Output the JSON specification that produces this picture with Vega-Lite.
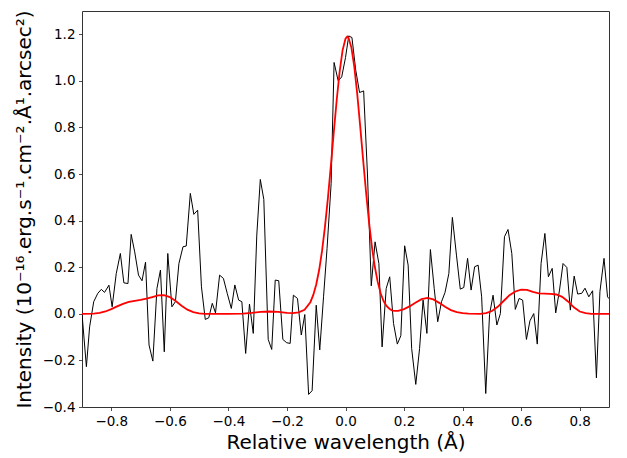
{
  "$schema": "https://vega.github.io/schema/vega-lite/v6.json",
  "width": 527,
  "height": 396,
  "autosize": {"type": "none"},
  "padding": {"left": 82, "top": 11, "right": 18, "bottom": 51},
  "background": "white",
  "datasets": {
    "obs": [
      {"x": -0.900, "y": 0.00}, {"x": -0.885, "y": -0.227}, {"x": -0.874, "y": -0.056}, {"x": -0.860, "y": 0.052},
      {"x": -0.846, "y": 0.088}, {"x": -0.834, "y": 0.105}, {"x": -0.823, "y": 0.092}, {"x": -0.808, "y": 0.123},
      {"x": -0.797, "y": 0.030}, {"x": -0.783, "y": 0.173}, {"x": -0.769, "y": 0.259}, {"x": -0.757, "y": 0.133},
      {"x": -0.743, "y": 0.130}, {"x": -0.732, "y": 0.341}, {"x": -0.720, "y": 0.266}, {"x": -0.707, "y": 0.166},
      {"x": -0.695, "y": 0.142}, {"x": -0.683, "y": 0.222}, {"x": -0.671, "y": -0.134}, {"x": -0.658, "y": -0.203},
      {"x": -0.644, "y": 0.109}, {"x": -0.632, "y": 0.188}, {"x": -0.619, "y": -0.163}, {"x": -0.607, "y": 0.259},
      {"x": -0.593, "y": 0.030}, {"x": -0.581, "y": 0.052}, {"x": -0.569, "y": 0.216}, {"x": -0.555, "y": 0.288},
      {"x": -0.544, "y": 0.291}, {"x": -0.530, "y": 0.517}, {"x": -0.518, "y": 0.427}, {"x": -0.505, "y": 0.445},
      {"x": -0.492, "y": 0.116}, {"x": -0.479, "y": -0.024}, {"x": -0.467, "y": -0.017}, {"x": -0.455, "y": 0.045},
      {"x": -0.444, "y": 0.004}, {"x": -0.430, "y": 0.166}, {"x": -0.417, "y": 0.152}, {"x": -0.404, "y": 0.088},
      {"x": -0.390, "y": 0.023}, {"x": -0.378, "y": 0.124}, {"x": -0.365, "y": 0.059}, {"x": -0.354, "y": 0.052},
      {"x": -0.341, "y": -0.170}, {"x": -0.328, "y": 0.042}, {"x": -0.315, "y": -0.084}, {"x": -0.303, "y": 0.338},
      {"x": -0.291, "y": 0.577}, {"x": -0.279, "y": 0.491}, {"x": -0.264, "y": -0.110}, {"x": -0.252, "y": -0.153},
      {"x": -0.240, "y": 0.145}, {"x": -0.228, "y": 0.142}, {"x": -0.214, "y": -0.110}, {"x": -0.201, "y": -0.124},
      {"x": -0.189, "y": -0.127}, {"x": -0.178, "y": 0.080}, {"x": -0.164, "y": 0.066}, {"x": -0.151, "y": -0.091},
      {"x": -0.139, "y": -0.003}, {"x": -0.126, "y": -0.346}, {"x": -0.114, "y": -0.330}, {"x": -0.100, "y": 0.037},
      {"x": -0.088, "y": -0.155}, {"x": -0.075, "y": 0.073}, {"x": -0.063, "y": 0.281}, {"x": -0.049, "y": 0.560},
      {"x": -0.039, "y": 1.079}, {"x": -0.025, "y": 1.000}, {"x": -0.013, "y": 1.017}, {"x": 0.000, "y": 1.100},
      {"x": 0.011, "y": 1.193}, {"x": 0.022, "y": 1.186}, {"x": 0.035, "y": 1.046}, {"x": 0.048, "y": 0.950},
      {"x": 0.062, "y": 0.957}, {"x": 0.075, "y": 0.600}, {"x": 0.088, "y": 0.120}, {"x": 0.101, "y": 0.309},
      {"x": 0.114, "y": 0.216}, {"x": 0.125, "y": -0.142}, {"x": 0.139, "y": 0.109}, {"x": 0.151, "y": 0.159},
      {"x": 0.164, "y": -0.041}, {"x": 0.177, "y": -0.130}, {"x": 0.189, "y": -0.094}, {"x": 0.202, "y": 0.292},
      {"x": 0.214, "y": 0.209}, {"x": 0.226, "y": -0.149}, {"x": 0.240, "y": -0.303}, {"x": 0.253, "y": -0.149},
      {"x": 0.265, "y": 0.059}, {"x": 0.278, "y": -0.084}, {"x": 0.290, "y": 0.276}, {"x": 0.303, "y": 0.109},
      {"x": 0.315, "y": -0.034}, {"x": 0.328, "y": 0.052}, {"x": 0.340, "y": 0.092}, {"x": 0.353, "y": 0.173},
      {"x": 0.365, "y": 0.414}, {"x": 0.379, "y": 0.252}, {"x": 0.392, "y": 0.106}, {"x": 0.404, "y": 0.113},
      {"x": 0.417, "y": 0.238}, {"x": 0.429, "y": 0.102}, {"x": 0.441, "y": 0.202}, {"x": 0.453, "y": 0.209},
      {"x": 0.465, "y": 0.073}, {"x": 0.479, "y": -0.342}, {"x": 0.492, "y": -0.002}, {"x": 0.504, "y": 0.080},
      {"x": 0.517, "y": -0.048}, {"x": 0.529, "y": 0.001}, {"x": 0.543, "y": 0.331}, {"x": 0.555, "y": 0.362},
      {"x": 0.568, "y": 0.259}, {"x": 0.580, "y": 0.019}, {"x": 0.593, "y": 0.066}, {"x": 0.605, "y": 0.059},
      {"x": 0.618, "y": -0.110}, {"x": 0.630, "y": -0.030}, {"x": 0.643, "y": 0.001}, {"x": 0.655, "y": -0.130},
      {"x": 0.668, "y": 0.216}, {"x": 0.681, "y": 0.345}, {"x": 0.693, "y": 0.159}, {"x": 0.706, "y": 0.195},
      {"x": 0.718, "y": 0.004}, {"x": 0.731, "y": 0.102}, {"x": 0.743, "y": 0.216}, {"x": 0.756, "y": 0.199},
      {"x": 0.768, "y": 0.016}, {"x": 0.781, "y": 0.162}, {"x": 0.793, "y": 0.085}, {"x": 0.807, "y": 0.088},
      {"x": 0.818, "y": 0.110}, {"x": 0.831, "y": 0.073}, {"x": 0.844, "y": 0.099}, {"x": 0.857, "y": -0.275},
      {"x": 0.869, "y": 0.095}, {"x": 0.883, "y": 0.238}, {"x": 0.895, "y": 0.073}, {"x": 0.900, "y": 0.065}
    ],
    "fit": [
      {"x": -0.90, "y": 0.000}, {"x": -0.86, "y": 0.001}, {"x": -0.84, "y": 0.004}, {"x": -0.82, "y": 0.010},
      {"x": -0.80, "y": 0.020}, {"x": -0.78, "y": 0.032}, {"x": -0.76, "y": 0.043}, {"x": -0.74, "y": 0.051},
      {"x": -0.72, "y": 0.056}, {"x": -0.70, "y": 0.060}, {"x": -0.68, "y": 0.065}, {"x": -0.66, "y": 0.072},
      {"x": -0.64, "y": 0.079}, {"x": -0.62, "y": 0.080}, {"x": -0.60, "y": 0.072}, {"x": -0.58, "y": 0.055},
      {"x": -0.56, "y": 0.035}, {"x": -0.54, "y": 0.018}, {"x": -0.52, "y": 0.007}, {"x": -0.50, "y": 0.002},
      {"x": -0.48, "y": 0.000}, {"x": -0.40, "y": 0.000}, {"x": -0.35, "y": 0.001}, {"x": -0.32, "y": 0.004},
      {"x": -0.29, "y": 0.008}, {"x": -0.26, "y": 0.010}, {"x": -0.23, "y": 0.008}, {"x": -0.20, "y": 0.004},
      {"x": -0.18, "y": 0.003}, {"x": -0.16, "y": 0.006}, {"x": -0.14, "y": 0.017}, {"x": -0.12, "y": 0.050},
      {"x": -0.11, "y": 0.081}, {"x": -0.10, "y": 0.126}, {"x": -0.09, "y": 0.188}, {"x": -0.08, "y": 0.271},
      {"x": -0.07, "y": 0.375}, {"x": -0.06, "y": 0.498}, {"x": -0.05, "y": 0.636}, {"x": -0.04, "y": 0.780},
      {"x": -0.03, "y": 0.918}, {"x": -0.02, "y": 1.040}, {"x": -0.01, "y": 1.131}, {"x": 0.00, "y": 1.181},
      {"x": 0.006, "y": 1.190}, {"x": 0.01, "y": 1.186}, {"x": 0.02, "y": 1.144}, {"x": 0.03, "y": 1.061},
      {"x": 0.04, "y": 0.945}, {"x": 0.05, "y": 0.808}, {"x": 0.06, "y": 0.664}, {"x": 0.07, "y": 0.525},
      {"x": 0.08, "y": 0.398}, {"x": 0.09, "y": 0.290}, {"x": 0.10, "y": 0.203}, {"x": 0.11, "y": 0.137},
      {"x": 0.12, "y": 0.088}, {"x": 0.13, "y": 0.055}, {"x": 0.14, "y": 0.034}, {"x": 0.15, "y": 0.022},
      {"x": 0.16, "y": 0.014}, {"x": 0.17, "y": 0.013}, {"x": 0.18, "y": 0.013}, {"x": 0.20, "y": 0.020},
      {"x": 0.22, "y": 0.033}, {"x": 0.24, "y": 0.049}, {"x": 0.26, "y": 0.063}, {"x": 0.28, "y": 0.068},
      {"x": 0.30, "y": 0.062}, {"x": 0.32, "y": 0.047}, {"x": 0.34, "y": 0.030}, {"x": 0.36, "y": 0.016},
      {"x": 0.38, "y": 0.007}, {"x": 0.40, "y": 0.003}, {"x": 0.42, "y": 0.001}, {"x": 0.46, "y": 0.000},
      {"x": 0.48, "y": 0.003}, {"x": 0.50, "y": 0.012}, {"x": 0.52, "y": 0.030}, {"x": 0.54, "y": 0.055},
      {"x": 0.56, "y": 0.080}, {"x": 0.58, "y": 0.096}, {"x": 0.60, "y": 0.104}, {"x": 0.62, "y": 0.103},
      {"x": 0.64, "y": 0.094}, {"x": 0.66, "y": 0.088}, {"x": 0.68, "y": 0.087}, {"x": 0.70, "y": 0.086},
      {"x": 0.72, "y": 0.083}, {"x": 0.74, "y": 0.073}, {"x": 0.76, "y": 0.053}, {"x": 0.78, "y": 0.028},
      {"x": 0.80, "y": 0.010}, {"x": 0.82, "y": 0.003}, {"x": 0.84, "y": 0.000}, {"x": 0.90, "y": 0.000}
    ]
  },
  "layer": [
    {
      "data": {"name": "obs"},
      "mark": {"type": "line", "color": "black", "strokeWidth": 1, "clip": true},
      "encoding": {
        "x": {"field": "x", "type": "quantitative", "scale": {"domain": [-0.9, 0.9], "nice": false, "zero": false},
          "axis": {"title": "Relative wavelength (Å)", "values": [-0.8, -0.6, -0.4, -0.2, 0.0, 0.2, 0.4, 0.6, 0.8], "format": ".1f"}},
        "y": {"field": "y", "type": "quantitative", "scale": {"domain": [-0.4, 1.3], "nice": false, "zero": false},
          "axis": {"title": "Intensity (10⁻¹⁶.erg.s⁻¹.cm⁻².Å¹.arcsec²)", "values": [-0.4, -0.2, 0.0, 0.2, 0.4, 0.6, 0.8, 1.0, 1.2], "format": ".1f"}}
      }
    },
    {
      "data": {"name": "fit"},
      "mark": {"type": "line", "color": "#ff0000", "strokeWidth": 1.8, "clip": true},
      "encoding": {
        "x": {"field": "x", "type": "quantitative"},
        "y": {"field": "y", "type": "quantitative"}
      }
    }
  ],
  "config": {
    "view": {"stroke": "#333333", "strokeWidth": 1},
    "axis": {
      "grid": false,
      "domain": false,
      "tickColor": "#222222",
      "tickSize": 3.5,
      "tickWidth": 0.8,
      "labelPadding": 3.5,
      "labelFont": "DejaVu Sans",
      "labelFontSize": 13.5,
      "labelColor": "#000000",
      "titleFont": "DejaVu Sans",
      "titleFontSize": 20,
      "titleFontWeight": "normal",
      "titleColor": "#000000"
    },
    "axisX": {"titlePadding": 5},
    "axisY": {"titlePadding": 8}
  }
}
